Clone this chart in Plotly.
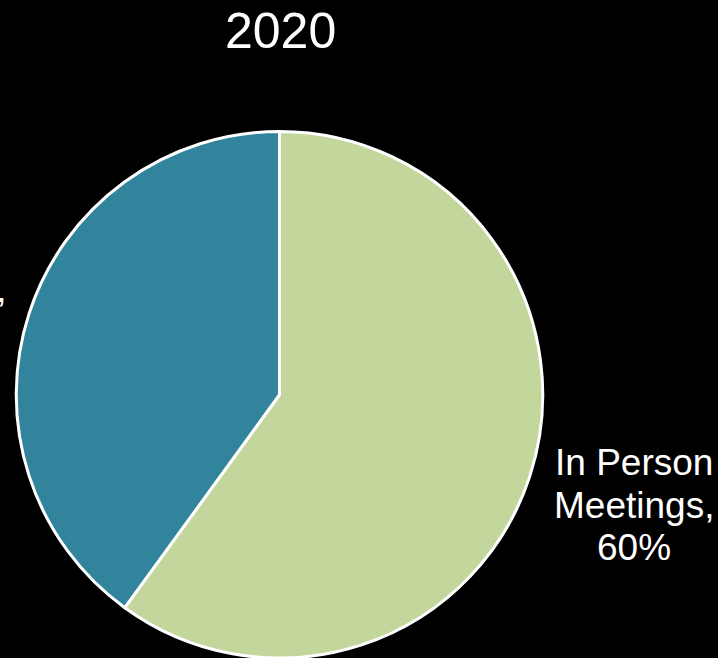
import plotly.graph_objects as go

# Data
labels = ["In Person Meetings", "Virtual Meetings"]
values = [60, 40]
colors = ["#C3D69B", "#31849B"]
chart_title = "2020"

W, H = 718, 658
FONT = "Liberation Sans, Arial, sans-serif"

# pie geometry (pixels)
cx, cy, r = 279.5, 395.0, 263.5

fig = go.Figure(go.Pie(
    labels=labels,
    values=values,
    sort=False,
    direction="clockwise",
    rotation=0,
    marker=dict(colors=colors, line=dict(color="white", width=3)),
    textinfo="none",
    showlegend=False,
    domain=dict(x=[(cx - r) / W, (cx + r) / W], y=[max(0, (H - (cy + r)) / H), (H - (cy - r)) / H]),
))

annotations = [dict(
    text=chart_title, xref="paper", yref="paper",
    x=280 / W, y=1 - 31 / H, xanchor="center", yanchor="middle",
    showarrow=False, font=dict(family=FONT, size=50, color="white"),
)]

# label positions (pixel centers of the label blocks) — right label, left label (cropped)
label_pos = [(633.5, 503.0), (-74.0, 288.0)]
line_gap = 42.0
for lab, val, (lx, ly) in zip(labels, values, label_pos):
    first, last = lab.rsplit(" ", 1)
    lines = [first, last + ",", f"{val}%"]
    for i, t in enumerate(lines):
        yy = ly + (i - 1) * line_gap
        annotations.append(dict(
            text=t, xref="paper", yref="paper",
            x=lx / W, y=1 - (yy + 2) / H, xanchor="center", yanchor="middle",
            showarrow=False, font=dict(family=FONT, size=37, color="white"),
        ))

fig.update_layout(
    width=W, height=H,
    margin=dict(l=0, r=0, t=0, b=0),
    paper_bgcolor="black", plot_bgcolor="black",
    annotations=annotations,
)

fig.write_html(
    "out.html",
    config={"displayModeBar": False},
    post_script="document.body.style.margin='0';document.body.style.background='black';document.body.style.overflow='hidden';",
)
